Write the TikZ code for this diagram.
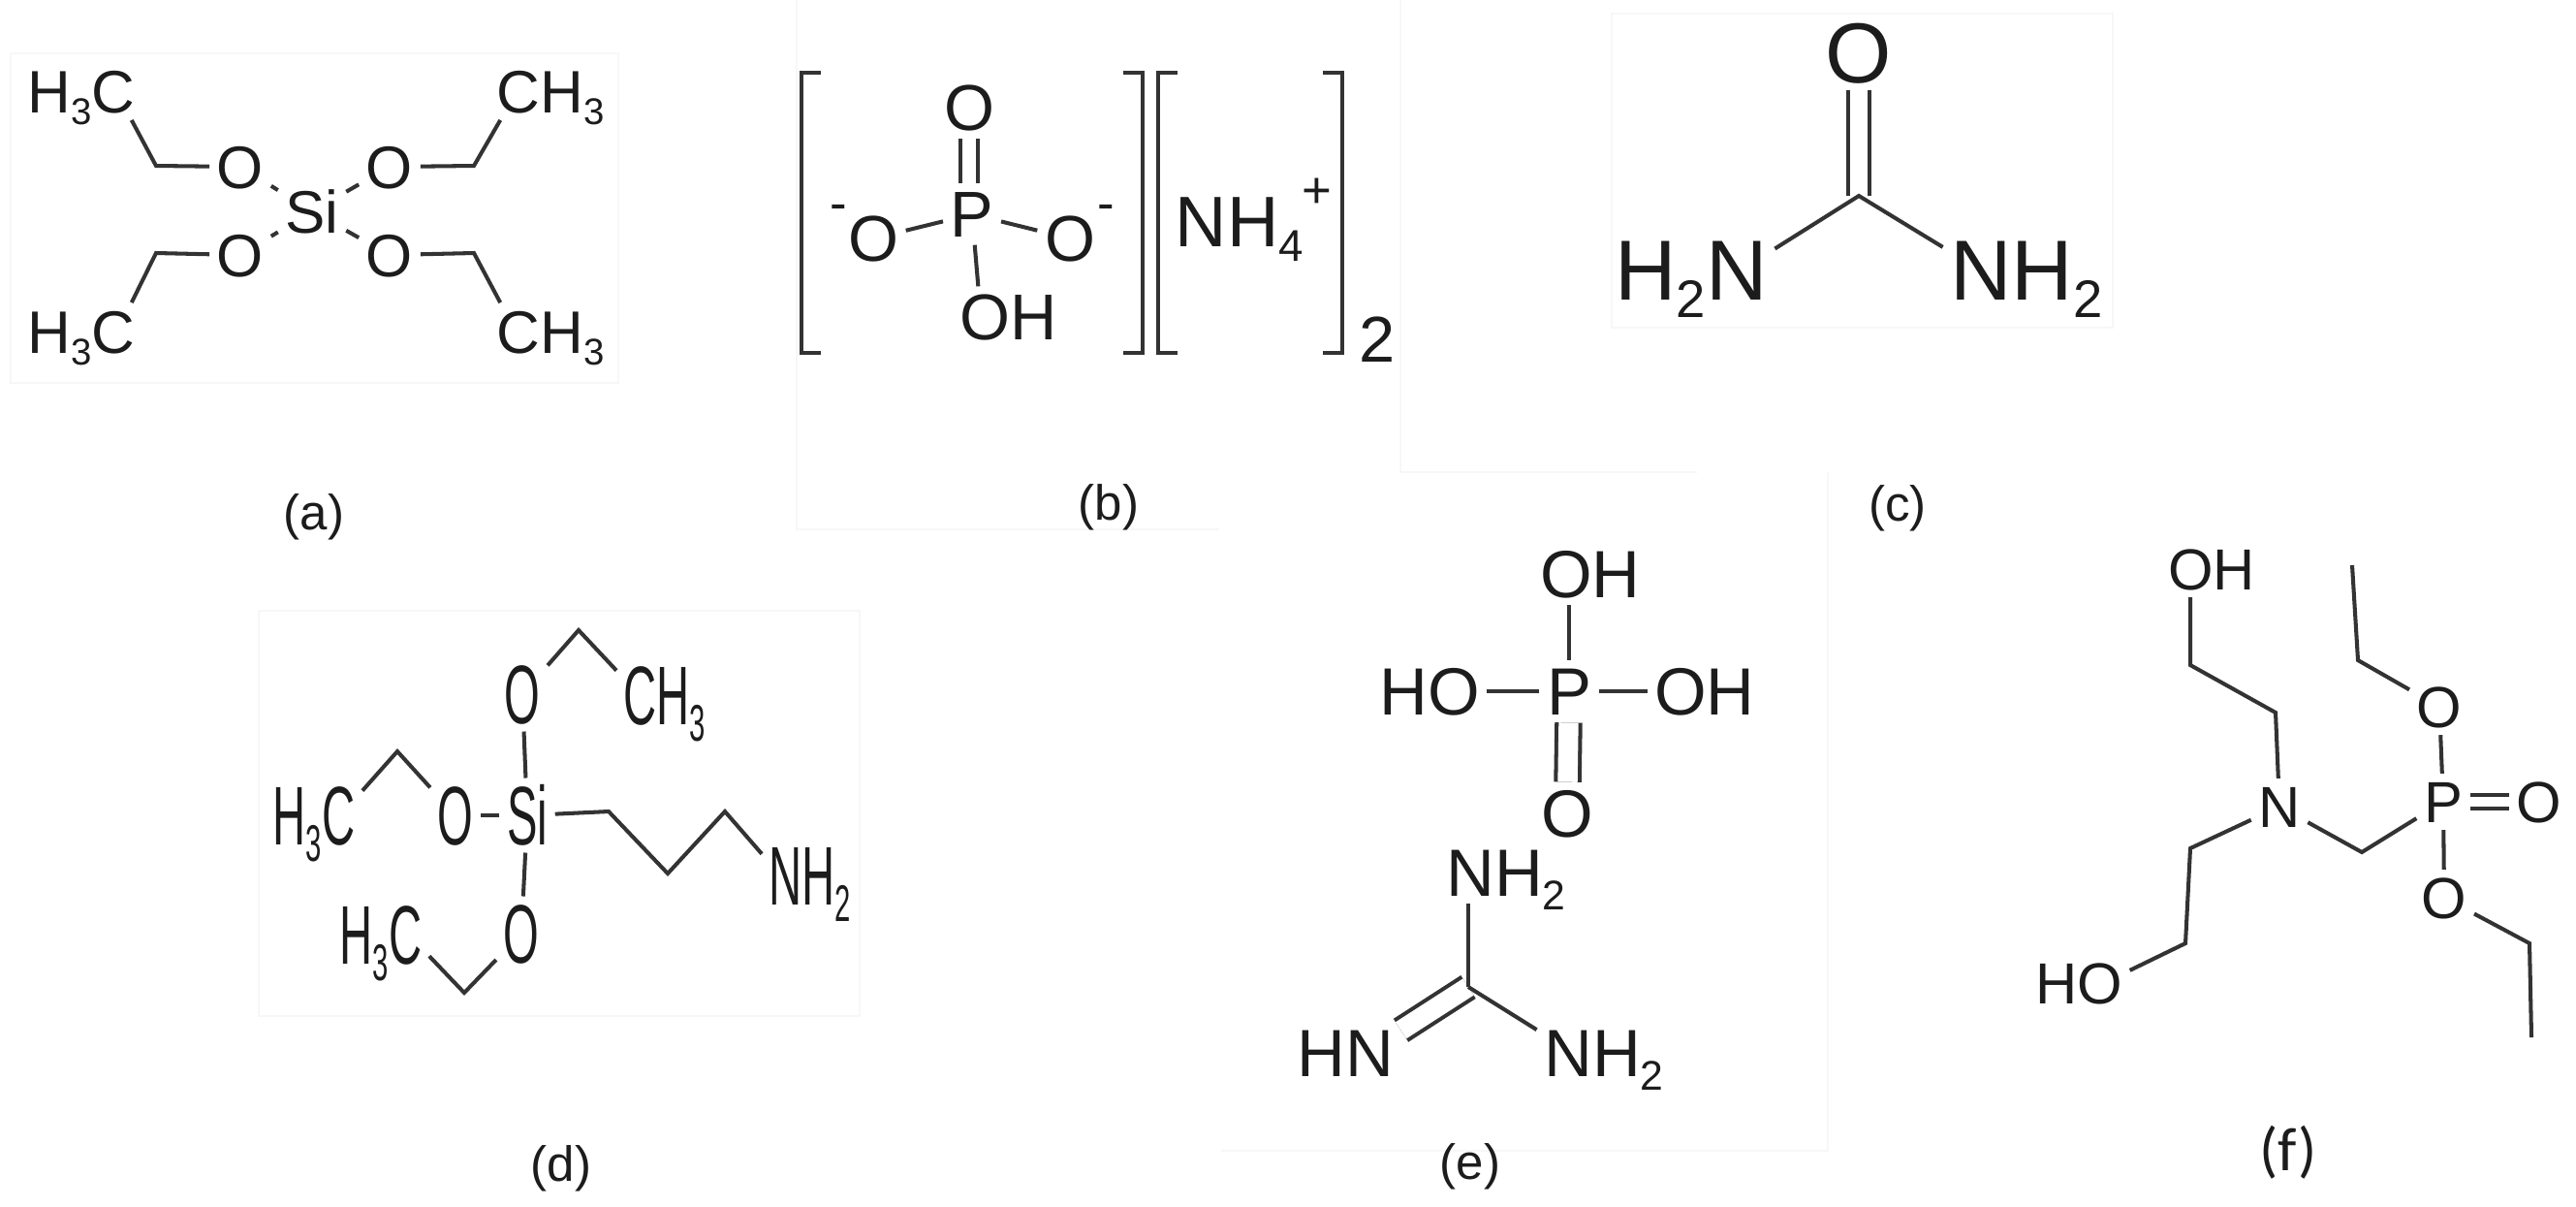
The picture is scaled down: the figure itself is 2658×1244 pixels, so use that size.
\documentclass[tikz,border=0pt]{standalone}
\usepackage{fontspec}
\usepackage{xcolor}
\setmainfont{Liberation Sans}
\newfontfamily\narrowchem[FakeStretch=0.55]{Liberation Sans}
\newfontfamily\capfont{Carlito}
\newcommand{\subn}[1]{\raisebox{-.2em}{\scalebox{.62}{#1}}}
\definecolor{inkchem}{HTML}{1C1C1C}
\definecolor{inkbond}{HTML}{333333}
\tikzset{
	atom/.style={inner sep=2pt,text=inkchem,text depth=0pt},
	atoma/.style={atom,font=\fontsize{17.6}{20}\selectfont,text height=12.6pt},
	atomb/.style={atom,font=\fontsize{19}{22}\selectfont,text height=13.6pt},
	atomc/.style={atom,font=\fontsize{25}{28}\selectfont,text height=17.9pt},
	atomd/.style={atom,font=\narrowchem\fontsize{24.4}{28}\selectfont,text height=17.5pt},
	atome/.style={atom,font=\fontsize{19.6}{22}\selectfont,text height=14pt},
	atomf/.style={atom,font=\fontsize{17}{20}\selectfont,text height=12.2pt},
	charge/.style={inner sep=0pt,text=inkchem,font=\fontsize{15}{16}\selectfont},
	caption/.style={anchor=base,inner sep=0pt,text=inkchem,font=\fontsize{14.5}{16}\selectfont},
	bond/.style={draw=inkbond,line width=1.15pt},
	dbond/.style={bond,double,double distance=#1},
	bracket/.style={draw=inkbond,line width=1.15pt},
	ghost/.style={draw=black!3,line width=0.5pt}
}
\begin{document}
\begin{tikzpicture}[x=0.01cm,y=-0.01cm]
	\useasboundingbox (0,0) rectangle (2658,1244);
	\draw[ghost](11,55)rectangle(638,395);
	\draw[ghost](822,0)--(822,546)--(1258,546);
	\draw[ghost](1445,0)--(1445,487)--(1751,487);
	\draw[ghost](1663,14)rectangle(2180,338);
	\draw[ghost](267,630)rectangle(887,1048);
	\draw[ghost](1886,487)--(1886,1187)--(1260,1187);

	\node[atoma] (asi) at (322,218){Si};
	\node[atoma] (ao1) at (248,172){O};
	\node[atoma] (ao2) at (402,172){O};
	\node[atoma] (ao3) at (248,263){O};
	\node[atoma] (ao4) at (402,263){O};
	\node[atoma] (ahc1) at (84,94){H\subn{3}C};
	\node[atoma] (ahc2) at (568,94){CH\subn{3}};
	\node[atoma] (ahc3) at (84,342){H\subn{3}C};
	\node[atoma] (ahc4) at (568,342){CH\subn{3}};
	\coordinate (av1) at (161,171);
	\coordinate (av2) at (489,171);
	\coordinate (av3) at (161,261);
	\coordinate (av4) at (489,261);
	\draw[bond](asi)--(ao1);
	\draw[bond](asi)--(ao2);
	\draw[bond](asi)--(ao3);
	\draw[bond](asi)--(ao4);
	\draw[bond](ahc1.-30)--(av1)--(ao1);
	\draw[bond](ahc2.-150)--(av2)--(ao2);
	\draw[bond](ahc3.30)--(av3)--(ao3);
	\draw[bond](ahc4.150)--(av4)--(ao4);
	\node[caption] (capa) at (324,546){(a)};

	\node[atomb] (bp) at (1003,221){P};
	\node[atomb] (bot) at (1000,111){O};
	\node[atomb] (bol) at (901,246){O};
	\node[atomb] (bor) at (1104,246){O};
	\node[atomb] (boh) at (1041,327){OH};
	\node[atomb,font=\fontsize{21}{24}\selectfont,text height=15pt] (bnh) at (1279,228){NH\subn{4}};
	\node[charge] (bml) at (865,219){-};
	\node[charge] (bmr) at (1141,219){-};
	\node[charge] (bpl) at (1359,199){+};
	\node[atomb,anchor=base] (btwo) at (1421,373){2};
	\draw[dbond=4.2pt](bp.north -| bot)--(bot);
	\draw[bond](bp)--(bol);
	\draw[bond](bp)--(bor);
	\draw[bond](bp)--(boh.135);
	\draw[bracket](847,75)--(827,75)--(827,364)--(847,364);
	\draw[bracket](1159,75)--(1179,75)--(1179,364)--(1159,364);
	\draw[bracket](1215,75)--(1195,75)--(1195,364)--(1215,364);
	\draw[bracket](1365,75)--(1385,75)--(1385,364)--(1365,364);
	\node[caption] (capb) at (1144,536){(b)};

	\coordinate (cv) at (1918,202);
	\node[atomc] (cot) at (1918,54){O};
	\node[atomc] (cnl) at (1745,278){H\subn{2}N};
	\node[atomc] (cnr) at (2091,278){NH\subn{2}};
	\draw[dbond=5.2pt](cv)--(cot);
	\draw[bond](cnl.14)--(cv)--(cnr.165);
	\node[caption] (capc) at (1958,537){(c)};

	\node[atomd] (dsi) at (544,841){Si};
	\node[atomd] (dot) at (539,716){O};
	\node[atomd] (dol) at (470,841){O};
	\node[atomd] (dob) at (538,963){O};
	\node[atomd] (dch) at (686,717){CH\subn{3}};
	\node[atomd] (dhl) at (324,841){H\subn{3}C};
	\node[atomd] (dhb) at (393,964){H\subn{3}C};
	\node[atomd] (dnh) at (836,903){NH\subn{2}};
	\coordinate (dv1) at (597,650);
	\coordinate (dv2) at (410,775);
	\coordinate (dv3) at (479,1024);
	\coordinate (dv4) at (628,837);
	\coordinate (dv5) at (689,901);
	\coordinate (dv6) at (748,837);
	\draw[bond](dsi)--(dot);
	\draw[bond](dsi)--(dol);
	\draw[bond](dsi)--(dob);
	\draw[bond](dot)--(dv1)--(dch.153);
	\draw[bond](dol)--(dv2)--(dhl.27);
	\draw[bond](dob)--(dv3)--(dhb.-24);
	\draw[bond](dsi)--(dv4)--(dv5)--(dv6)--(dnh.156);
	\node[caption] (capd) at (579,1218){(d)};

	\node[atome] (ep) at (1619,713){P};
	\node[atome] (eot) at (1641,592){OH};
	\node[atome] (eol) at (1475,713){HO};
	\node[atome] (eor) at (1759,713){OH};
	\node[atome] (eob) at (1617,839){O};
	\draw[bond](ep)--(ep |- eot.south);
	\draw[bond](ep)--(eol);
	\draw[bond](ep)--(eor);
	\draw[dbond=5.8pt](ep)--(eob);
	\coordinate (ev) at (1515,1018);
	\node[atome] (ent) at (1554,900){NH\subn{2}};
	\node[atome] (enr) at (1655,1086){NH\subn{2}};
	\node[atome] (enl) at (1388,1086){HN};
	\draw[dbond=5.8pt](ev)--(enl.22);
	\draw[bond](ev)--(ev |- ent.south);
	\draw[bond](ev)--(enr.161);
	\node[caption] (cape) at (1517,1216){(e)};

	\node[atomf] (fn) at (2352,832){N};
	\node[atomf] (fp) at (2521,827){P};
	\node[atomf] (foh) at (2282,587){OH};
	\node[atomf] (fho) at (2145,1014){HO};
	\node[atomf] (fot) at (2517,729){O};
	\node[atomf] (fob) at (2522,926){O};
	\node[atomf] (for) at (2620,827){O};
	\coordinate (fv1) at (2260,686);
	\coordinate (fv2) at (2348,735);
	\coordinate (fv3) at (2260,875);
	\coordinate (fv4) at (2255,973);
	\coordinate (fv5) at (2437,879);
	\coordinate (fv6) at (2433,681);
	\coordinate (fe1) at (2427,583);
	\coordinate (fv7) at (2610,973);
	\coordinate (fe2) at (2612,1070);
	\draw[bond](fv1 |- foh.south)--(fv1)--(fv2)--(fn);
	\draw[bond](fn)--(fv3)--(fv4)--(fho.14);
	\draw[bond](fn)--(fv5)--(fp);
	\draw[bond](fp)--(fot);
	\draw[bond](fp)--(fob);
	\draw[dbond=2.8pt](fp)--(for);
	\draw[bond](fot)--(fv6)--(fe1);
	\draw[bond](fob)--(fv7)--(fe2);
	\node[caption,font=\capfont\fontsize{18}{20}\selectfont] (capf) at (2361,1207){(f)};
\end{tikzpicture}
\end{document}
